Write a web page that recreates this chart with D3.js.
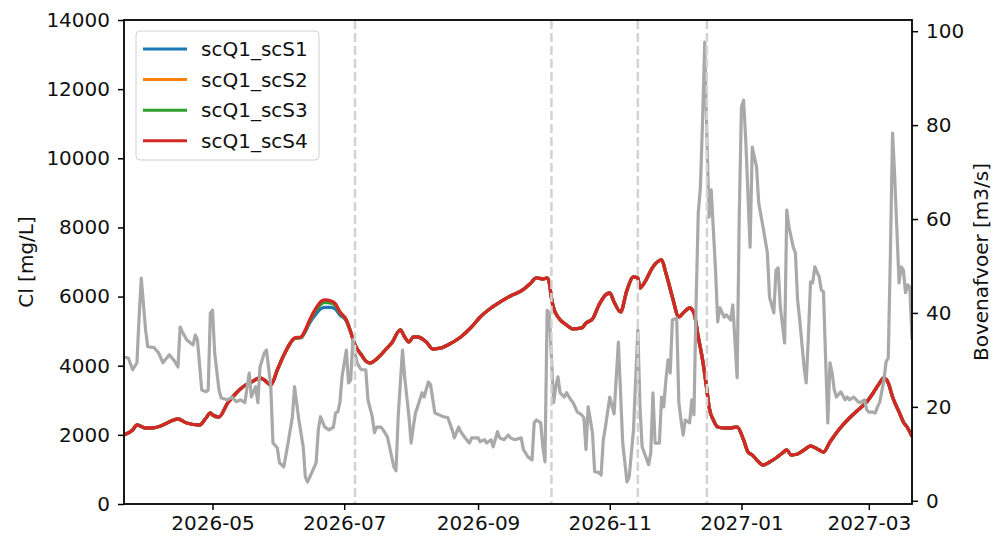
<!DOCTYPE html>
<html>
<head>
<meta charset="utf-8">
<script src="https://cdn.jsdelivr.net/npm/d3@7"></script>
<style>
  body { margin: 0; background: #fff; }
  svg { display: block; }
  text { font-family: "DejaVu Sans", sans-serif; }
</style>
</head>
<body>
<svg id="chart" width="994" height="538"></svg>
<script>
// day numbers are counted from this date
const startDate = "2026-03-21";

// Bovenafvoer [m3/s] (right axis)
const qDays = [0,2,4,6,7,8,10,11,14,16,18,19,21,23,25,26,27,29,32,33,34,36,38,39,40,41,42,44,45,48,50,52,54,56,58,59,61,62,63,65,66,68,69,71,72,74,76,78,79,81,83,84,85,87,89,90,91,93,95,97,98,99,100,101,103,104,105,106,107,108,109,110,112,113,115,116,117,119,120,122,123,125,126,127,129,130,132,133,134,135,136,138,139,141,142,144,146,148,150,152,153,155,156,158,160,161,164,165,167,168,170,171,173,174,176,178,179,181,184,185,186,187,189,190,191,193,194,195,196,197,199,200,201,202,204,205,207,208,210,212,213,214,215,217,218,220,221,222,223,225,227,229,231,233,234,236,238,239,240,243,244,245,246,248,249,250,251,252,253,254,256,257,258,259,260,262,263,264,265,266,267,268,269,270,271,272,274,275,276,278,279,281,282,284,285,286,287,288,290,291,293,294,296,298,299,301,302,303,304,306,307,308,310,311,312,313,315,316,317,318,319,320,322,323,324,325,326,327,328,329,330,332,334,335,336,338,340,341,343,344,345,347,348,349,350,352,353,354,355,356,357,359,360,361,362,363,364,365];
const qValues = [30.6,30.4,27.9,29.4,39.1,47.4,36.4,32.8,32.6,31.5,29.4,30.0,31.1,30.0,28.5,37.0,36.0,34.3,33.2,35.3,34.3,23.6,23.2,23.6,40.0,40.6,31.5,23.6,21.9,21.5,22.1,21.1,21.5,20.9,27.2,22.1,24.3,20.9,28.5,31.5,32.1,24.3,12.3,11.3,8.1,7.2,12.3,17.9,24.3,17.2,11.5,5.1,4.0,6.0,8.1,15.1,17.9,15.7,15.1,15.7,18.7,18.9,20.9,26.4,32.1,25.1,25.7,34.3,31.5,29.4,28.5,27.9,27.9,21.5,17.9,14.5,15.7,15.7,15.1,13.6,11.5,7.2,6.4,17.9,32.1,26.4,17.9,12.3,15.7,18.7,20.0,23.0,22.1,25.3,24.7,18.7,18.3,17.9,17.7,15.1,13.4,15.7,14.7,13.4,12.3,13.4,13.4,12.6,13.0,12.3,13.0,11.5,14.7,13.4,13.0,14.0,13.4,13.0,13.4,10.9,10.2,9.4,8.7,16.6,17.2,16.6,11.5,8.3,40.6,40.0,20.9,24.3,26.4,23.0,22.1,23.0,21.5,20.9,18.9,18.3,17.7,10.9,20.0,14.5,6.2,6.0,5.5,13.0,15.7,22.1,18.5,33.8,12.3,4.0,5.1,15.1,36.4,20.0,11.5,7.7,10.2,23.0,12.3,12.3,22.1,20.0,25.7,30.0,27.2,38.5,38.9,20.9,17.2,14.0,17.2,16.6,21.5,18.3,42.1,61.3,66.8,81.1,97.7,77.4,60.4,66.2,49.1,38.1,41.1,39.1,39.6,38.5,41.7,26.2,61.3,83.8,85.3,76.8,54.0,75.3,71.1,63.4,58.3,52.8,43.4,40.0,49.1,49.6,41.3,33.6,61.9,58.3,54.0,52.8,42.8,38.5,28.5,25.1,34.9,46.6,46.4,49.8,47.7,44.9,44.5,30.0,16.6,29.4,27.2,23.6,22.1,23.2,21.5,22.1,21.5,22.1,21.1,20.9,21.5,19.4,18.9,18.9,18.7,20.0,20.9,25.7,29.6,30.4,52.8,78.3,68.9,46.4,49.8,49.1,44.3,46.0,45.5,34.3];

// Cl [mg/L] (left axis), four scenarios on the same days
const clDays = [0,4,6,10,13,17,20,25,29,35,38,40,41,44,48,52,55,59,63,65,68,71,74,77,79,82,84,86,89,91,93,96,98,100,103,105,107,110,112,114,117,119,121,124,128,130,132,134,136,140,143,147,150,156,161,165,170,175,179,184,188,191,194,196,197,198,199,201,205,208,212,214,217,220,223,225,227,230,233,236,238,239,241,245,249,251,254,257,259,262,264,266,268,270,271,273,275,278,281,284,287,289,291,294,296,299,302,305,307,309,312,315,318,322,324,327,331,336,340,344,347,350,352,354,356,359,361,363,365];
const clS1 = [2000,2141,2285,2199,2199,2257,2343,2459,2343,2285,2488,2633,2575,2517,2922,3211,3385,3529,3645,3587,3443,3877,4300,4650,4790,4815,4990,5240,5500,5640,5690,5685,5630,5470,5290,4976,4600,4311,4137,4079,4195,4311,4455,4658,5034,4831,4687,4831,4831,4687,4484,4513,4600,4831,5121,5410,5670,5873,6017,6162,6365,6538,6509,6538,6394,5960,5670,5410,5178,5063,5092,5236,5352,5757,6046,6104,5844,5555,6191,6567,6538,6249,6394,6856,7059,6683,5989,5410,5526,5670,5526,4831,4166,3298,2806,2430,2228,2199,2199,2228,1852,1504,1418,1215,1128,1215,1331,1475,1562,1418,1447,1562,1678,1562,1504,1794,2141,2488,2719,2951,3211,3501,3645,3501,3096,2662,2372,2199,1950];
const clS2 = [2000,2141,2285,2199,2199,2257,2343,2459,2343,2285,2488,2633,2575,2517,2922,3211,3385,3529,3645,3587,3443,3877,4300,4650,4795,4822,5020,5305,5640,5805,5865,5840,5762,5542,5318,4976,4600,4311,4137,4079,4195,4311,4455,4658,5034,4831,4687,4831,4831,4687,4484,4513,4600,4831,5121,5410,5670,5873,6017,6162,6365,6538,6509,6538,6394,5960,5670,5410,5178,5063,5092,5236,5352,5757,6046,6104,5844,5555,6191,6567,6538,6249,6394,6856,7059,6683,5989,5410,5526,5670,5526,4831,4166,3298,2806,2430,2228,2199,2199,2228,1852,1504,1418,1215,1128,1215,1331,1475,1562,1418,1447,1562,1678,1562,1504,1794,2141,2488,2719,2951,3211,3501,3645,3501,3096,2662,2372,2199,1950];
const clS3 = [2000,2141,2285,2199,2199,2257,2343,2459,2343,2285,2488,2633,2575,2517,2922,3211,3385,3529,3645,3587,3443,3877,4300,4650,4790,4820,5010,5290,5610,5770,5830,5810,5740,5530,5315,4976,4600,4311,4137,4079,4195,4311,4455,4658,5034,4831,4687,4831,4831,4687,4484,4513,4600,4831,5121,5410,5670,5873,6017,6162,6365,6538,6509,6538,6394,5960,5670,5410,5178,5063,5092,5236,5352,5757,6046,6104,5844,5555,6191,6567,6538,6249,6394,6856,7059,6683,5989,5410,5526,5670,5526,4831,4166,3298,2806,2430,2228,2199,2199,2228,1852,1504,1418,1215,1128,1215,1331,1475,1562,1418,1447,1562,1678,1562,1504,1794,2141,2488,2719,2951,3211,3501,3645,3501,3096,2662,2372,2199,1950];
const clS4 = [2000,2141,2285,2199,2199,2257,2343,2459,2343,2285,2488,2633,2575,2517,2922,3211,3385,3529,3645,3587,3443,3877,4300,4650,4802,4831,5034,5323,5670,5844,5902,5873,5786,5555,5323,4976,4600,4311,4137,4079,4195,4311,4455,4658,5034,4831,4687,4831,4831,4687,4484,4513,4600,4831,5121,5410,5670,5873,6017,6162,6365,6538,6509,6538,6394,5960,5670,5410,5178,5063,5092,5236,5352,5757,6046,6104,5844,5555,6191,6567,6538,6249,6394,6856,7059,6683,5989,5410,5526,5670,5526,4831,4166,3298,2806,2430,2228,2199,2199,2228,1852,1504,1418,1215,1128,1215,1331,1475,1562,1418,1447,1562,1678,1562,1504,1794,2141,2488,2719,2951,3211,3501,3645,3501,3096,2662,2372,2199,1950];

const seriesNames = ["scQ1_scS1", "scQ1_scS2", "scQ1_scS3", "scQ1_scS4"];
const seriesValues = [clS1, clS2, clS3, clS4];
const seriesColors = ["#1f77b4", "#ff7f0e", "#2ca02c", "#d62728"];

// dashed vertical markers
const markerDates = ["2026-07-06", "2026-10-05", "2026-11-14", "2026-12-16"];

const xTickLabels = ["2026-05", "2026-07", "2026-09", "2026-11", "2027-01", "2027-03"];
const clTicks = [0, 2000, 4000, 6000, 8000, 10000, 12000, 14000];
const qTicks = [0, 20, 40, 60, 80, 100];

const width = 994, height = 538;
const margin = { top: 20, right: 82, bottom: 34, left: 124 };
const fontSize = 20;

const svg = d3.select("#chart");
const parseDay = d3.timeParse("%Y-%m-%d");
const parseMonth = d3.timeParse("%Y-%m");
const start = parseDay(startDate);
const toDate = d => d3.timeDay.offset(start, d);

const x = d3.scaleTime()
  .domain([toDate(d3.min(qDays)), toDate(d3.max(qDays))])
  .range([margin.left, width - margin.right]);

const yCl = d3.scaleLinear()
  .domain([0, 14000])
  .range([height - margin.bottom, margin.top]);

// matplotlib-like 5% padding on the discharge axis
const qExt = d3.extent(qValues);
const qPad = (qExt[1] - qExt[0]) * 0.05;
const yQ = d3.scaleLinear()
  .domain([qExt[0] - qPad, qExt[1] + qPad])
  .range([height - margin.bottom, margin.top]);

svg.append("defs").append("clipPath").attr("id", "plot-clip")
  .append("rect")
  .attr("x", margin.left).attr("y", margin.top)
  .attr("width", width - margin.left - margin.right)
  .attr("height", height - margin.top - margin.bottom);

const plot = svg.append("g").attr("clip-path", "url(#plot-clip)");

// Cl scenarios
const clLine = d3.line()
  .x((d, i) => x(toDate(clDays[i])))
  .y(d => yCl(d))
  .curve(d3.curveMonotoneX);

seriesValues.forEach((vals, k) => {
  plot.append("path")
    .datum(vals)
    .attr("fill", "none")
    .attr("stroke", seriesColors[k])
    .attr("stroke-width", 3.3)
    .attr("stroke-linejoin", "round")
    .attr("d", clLine);
});

// discharge
const qLine = d3.line()
  .x((d, i) => x(toDate(qDays[i])))
  .y(d => yQ(d));

plot.append("path")
  .datum(qValues)
  .attr("fill", "none")
  .attr("stroke", "#a9a9a9")
  .attr("stroke-width", 3.2)
  .attr("stroke-linejoin", "round")
  .attr("d", qLine);

// vertical dashed lines
plot.selectAll(".marker")
  .data(markerDates)
  .enter()
  .append("line")
  .attr("x1", d => x(parseDay(d)))
  .attr("x2", d => x(parseDay(d)))
  .attr("y1", margin.top)
  .attr("y2", height - margin.bottom)
  .attr("stroke", "#d3d3d3")
  .attr("stroke-width", 2.5)
  .attr("stroke-dasharray", "9,4");

// axes
function styleAxis(g) {
  g.select(".domain").remove();
  g.selectAll(".tick line").attr("stroke", "#000").attr("stroke-width", 1.5);
  g.selectAll(".tick text")
    .attr("fill", "#111")
    .style("font-size", fontSize + "px")
    .style("font-family", "'DejaVu Sans', sans-serif");
}

svg.append("g")
  .attr("transform", "translate(0," + (height - margin.bottom) + ")")
  .call(d3.axisBottom(x)
    .tickValues(xTickLabels.map(parseMonth))
    .tickFormat(d3.timeFormat("%Y-%m"))
    .tickSize(6).tickPadding(6))
  .call(styleAxis);

svg.append("g")
  .attr("transform", "translate(" + margin.left + ",0)")
  .call(d3.axisLeft(yCl).tickValues(clTicks).tickFormat(d3.format("d"))
    .tickSize(6).tickPadding(8))
  .call(styleAxis);

svg.append("g")
  .attr("transform", "translate(" + (width - margin.right) + ",0)")
  .call(d3.axisRight(yQ).tickValues(qTicks).tickFormat(d3.format("d"))
    .tickSize(6).tickPadding(8))
  .call(styleAxis);

// spines
svg.append("rect")
  .attr("x", margin.left).attr("y", margin.top)
  .attr("width", width - margin.left - margin.right)
  .attr("height", height - margin.top - margin.bottom)
  .attr("fill", "none")
  .attr("stroke", "#000")
  .attr("stroke-width", 1.8);

// axis titles
svg.append("text")
  .attr("transform", "translate(33," + ((margin.top + height - margin.bottom) / 2) + ") rotate(-90)")
  .attr("text-anchor", "middle")
  .style("font-size", fontSize + "px")
  .attr("fill", "#111")
  .text("Cl [mg/L]");

svg.append("text")
  .attr("transform", "translate(988," + ((margin.top + height - margin.bottom) / 2) + ") rotate(-90)")
  .attr("text-anchor", "middle")
  .style("font-size", fontSize + "px")
  .attr("fill", "#111")
  .text("Bovenafvoer [m3/s]");

// legend
const legend = svg.append("g").attr("transform", "translate(136,31)");
legend.append("rect")
  .attr("width", 183).attr("height", 129)
  .attr("rx", 4)
  .attr("fill", "#fff").attr("fill-opacity", 0.8)
  .attr("stroke", "#d0d0d0").attr("stroke-width", 1);

seriesNames.forEach((name, k) => {
  const ly = 18 + k * 30.6;
  legend.append("line")
    .attr("x1", 7).attr("x2", 51)
    .attr("y1", ly).attr("y2", ly)
    .attr("stroke", seriesColors[k])
    .attr("stroke-width", 3);
  legend.append("text")
    .attr("x", 65).attr("y", ly)
    .attr("dy", "0.35em")
    .style("font-size", fontSize + "px")
    .attr("fill", "#111")
    .text(name);
});
</script>
</body>
</html>
